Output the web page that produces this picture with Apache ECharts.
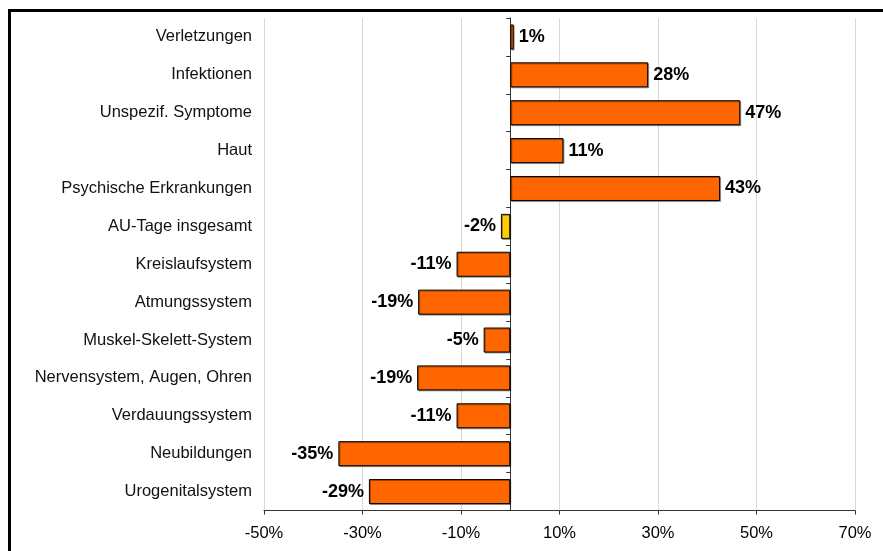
<!DOCTYPE html>
<html>
<head>
<meta charset="utf-8">
<script src="https://cdn.jsdelivr.net/npm/echarts@6/dist/echarts.min.js"></script>
<style>
html,body{margin:0;padding:0;background:#fff;}
#chart{width:883px;height:551px;}
</style>
</head>
<body>
<div id="chart"></div>
<script>
var categories = ["Verletzungen","Infektionen","Unspezif. Symptome","Haut","Psychische Erkrankungen","AU-Tage insgesamt","Kreislaufsystem","Atmungssystem","Muskel-Skelett-System","Nervensystem, Augen, Ohren","Verdauungssystem","Neubildungen","Urogenitalsystem"];
var values = [0.7, 28, 46.7, 10.8, 42.6, -1.9, -10.9, -18.7, -5.4, -18.9, -10.9, -34.9, -28.7];
var xTicks = [-50, -30, -10, 10, 30, 50, 70];
var highlightCategory = "AU-Tage insgesamt";

var chart = echarts.init(document.getElementById('chart'), null, {renderer: 'canvas'});
var FONT = 'Arial, "Liberation Sans", sans-serif';

var seriesData = values.map(function (v, i) {
  return {
    value: v,
    itemStyle: {color: categories[i] === highlightCategory ? '#FFCC00' : '#FF6600'},
    label: {position: v >= 0 ? 'right' : 'left'}
  };
});

chart.setOption({
  animation: false,
  backgroundColor: '#ffffff',
  grid: {left: 264, right: 28, top: 18, bottom: 40.5, containLabel: false},
  graphic: [{
    type: 'rect',
    shape: {x: 9.5, y: 10.5, width: 900, height: 600},
    style: {fill: 'none', stroke: '#000', lineWidth: 3},
    silent: true, z: 100
  }],
  xAxis: {
    type: 'value',
    min: xTicks[0],
    max: xTicks[xTicks.length - 1],
    interval: xTicks[1] - xTicks[0],
    axisLine: {show: true, onZero: false, lineStyle: {color: '#333', width: 1}},
    axisTick: {show: true, length: 4, lineStyle: {color: '#333'}},
    axisLabel: {
      color: '#000', fontFamily: FONT, fontSize: 16.5, margin: 14,
      formatter: function (v) { return v + '%'; }
    },
    splitLine: {show: true, lineStyle: {color: '#d9d9d9', width: 1}}
  },
  yAxis: [{
    type: 'category',
    data: categories,
    inverse: true,
    position: 'left',
    axisLine: {show: false, onZero: false},
    axisTick: {show: false},
    axisLabel: {color: '#111', fontFamily: FONT, fontSize: 16.5, margin: 12, padding: [3, 0, 0, 0]}
  }, {
    type: 'category',
    data: categories,
    inverse: true,
    position: 'left',
    axisLine: {show: true, onZero: true, lineStyle: {color: '#333', width: 1}},
    axisTick: {show: true, length: 4, lineStyle: {color: '#333'}},
    axisLabel: {show: false}
  }],
  series: [{
    type: 'bar',
    yAxisIndex: 0,
    data: seriesData,
    barCategoryGap: '34%',
    itemStyle: {borderColor: '#000', borderWidth: 1, shadowColor: 'rgba(0,0,0,0.35)', shadowOffsetX: 1, shadowOffsetY: 1},
    label: {
      show: true,
      distance: 5,
      color: '#000',
      fontFamily: FONT,
      fontWeight: 'bold',
      fontSize: 18,
      padding: [2, 0, 0, 0],
      formatter: function (p) { return Math.round(p.value) + '%'; }
    }
  }]
});
</script>
</body>
</html>
